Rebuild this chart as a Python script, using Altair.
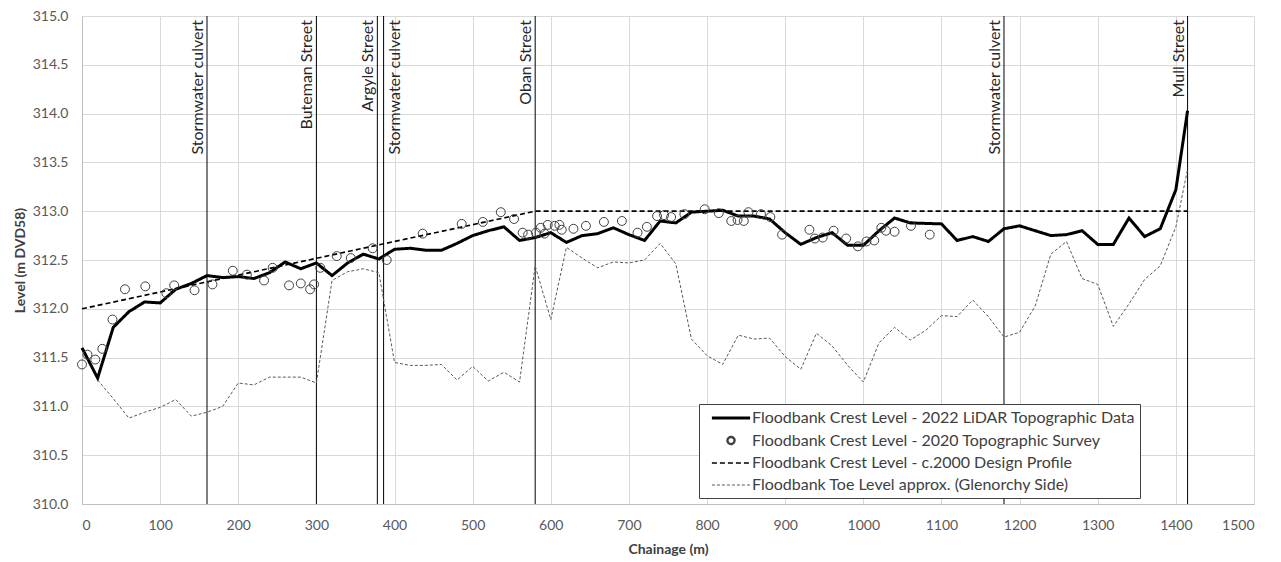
import altair as alt
import pandas as pd

FONT = "Lato"

# ---------------- data ----------------
lidar_ch = [0, 20, 40, 60, 80, 100, 120, 140, 160, 180, 200, 220, 240, 260, 280, 300,
            320, 340, 360, 380, 400, 420, 440, 460, 480, 500, 520, 540, 560, 580, 600,
            620, 640, 660, 680, 700, 720, 740, 760, 780, 800, 820, 840, 860, 880, 900,
            920, 940, 960, 980, 1000, 1020, 1040, 1060, 1080, 1100, 1120, 1140, 1160,
            1180, 1200, 1220, 1240, 1260, 1280, 1300, 1320, 1340, 1360, 1380, 1400, 1415]
lidar_lv = [311.60, 311.29, 311.81, 311.97, 312.07, 312.06, 312.20, 312.26, 312.34, 312.32,
            312.33, 312.31, 312.37, 312.48, 312.41, 312.47, 312.34, 312.47, 312.56, 312.51,
            312.61, 312.62, 312.60, 312.60, 312.67, 312.75, 312.80, 312.84, 312.70, 312.73,
            312.78, 312.68, 312.75, 312.77, 312.83, 312.76, 312.70, 312.90, 312.88, 312.99,
            313.00, 313.01, 312.95, 312.95, 312.92, 312.78, 312.66, 312.73, 312.78, 312.65,
            312.65, 312.80, 312.93, 312.88, 312.875, 312.87, 312.70, 312.74, 312.69, 312.82,
            312.85, 312.80, 312.75, 312.76, 312.80, 312.66, 312.66, 312.93, 312.74, 312.82,
            313.22, 314.03]

design_ch = [0, 580, 1415]
design_lv = [312.00, 313.00, 313.00]

toe_ch = [20, 40, 60, 80, 100, 120, 140, 160, 180, 200, 220, 240, 260, 280, 300, 320, 340,
          360, 380, 400, 420, 440, 460, 480, 500, 520, 540, 560, 580, 600, 620, 640, 660,
          680, 700, 720, 740, 760, 780, 800, 820, 840, 860, 880, 900, 920, 940, 960, 980,
          1000, 1020, 1040, 1060, 1080, 1100, 1120, 1140, 1160, 1180, 1200, 1220, 1240,
          1260, 1280, 1300, 1320, 1340, 1360, 1380, 1400, 1415]
toe_lv = [311.27, 311.08, 310.88, 310.94, 310.99, 311.07, 310.90, 310.94, 311.00, 311.24,
          311.22, 311.30, 311.30, 311.30, 311.24, 312.29, 312.38, 312.41, 312.37, 311.45,
          311.42, 311.42, 311.43, 311.27, 311.41, 311.26, 311.35, 311.25, 312.44, 311.89,
          312.63, 312.52, 312.42, 312.48, 312.47, 312.50, 312.67, 312.46, 311.69, 311.52,
          311.43, 311.73, 311.69, 311.70, 311.51, 311.38, 311.75, 311.62, 311.42, 311.25,
          311.65, 311.81, 311.68, 311.78, 311.93, 311.92, 312.09, 311.92, 311.71, 311.76,
          312.03, 312.56, 312.69, 312.31, 312.25, 311.82, 312.05, 312.30, 312.44, 312.84,
          313.43]

survey_ch = [0, 7, 17, 26, 39, 55, 81, 108, 118, 144, 167, 193, 211, 233, 244, 265, 280,
             292, 297, 305, 326, 344, 372, 390, 436, 486, 513, 536, 553, 564, 571, 581,
             587, 592, 596, 605, 611, 614, 629, 645, 668, 691, 711, 723, 736, 745, 754,
             771, 797, 815, 831, 839, 847, 853, 869, 881, 896, 931, 938, 948, 962, 978,
             993, 1004, 1014, 1023, 1029, 1040, 1061, 1085]
survey_lv = [311.43, 311.53, 311.48, 311.59, 311.89, 312.20, 312.23, 312.16, 312.24, 312.19,
             312.25, 312.39, 312.35, 312.29, 312.42, 312.24, 312.26, 312.20, 312.25, 312.42,
             312.54, 312.52, 312.62, 312.50, 312.77, 312.87, 312.89, 312.99, 312.92, 312.78,
             312.76, 312.78, 312.83, 312.77, 312.86, 312.85, 312.86, 312.81, 312.82, 312.85,
             312.89, 312.90, 312.78, 312.84, 312.95, 312.96, 312.94, 312.97, 313.02, 312.98,
             312.90, 312.91, 312.90, 312.99, 312.97, 312.94, 312.76, 312.81, 312.72, 312.73,
             312.80, 312.72, 312.64, 312.69, 312.70, 312.83, 312.80, 312.79, 312.85, 312.76]

marker_ch = [160, 300, 378, 386, 580, 1180, 1415]
marker_names = ["Stormwater culvert", "Buteman Street", "Argyle Street", "Stormwater culvert",
                "Oban Street", "Stormwater culvert", "Mull Street"]
marker_side = ["left", "left", "left", "right", "left", "left", "left"]

series_names = [
    "Floodbank Crest Level - 2022 LiDAR Topographic Data",
    "Floodbank Crest Level - 2020 Topographic Survey",
    "Floodbank Crest Level - c.2000 Design Profile",
    "Floodbank Toe Level approx. (Glenorchy Side)",
]

# ---------------- tables ----------------
lines_df = pd.concat([
    pd.DataFrame({"ch": lidar_ch, "lv": lidar_lv, "series": series_names[0], "ord": 3}),
    pd.DataFrame({"ch": design_ch, "lv": design_lv, "series": series_names[2], "ord": 2}),
    pd.DataFrame({"ch": toe_ch, "lv": toe_lv, "series": series_names[3], "ord": 1}),
], ignore_index=True)
survey_df = pd.DataFrame({"ch": survey_ch, "lv": survey_lv, "series": series_names[1]})
marker_df = pd.DataFrame({"ch": marker_ch, "name": marker_names, "side": marker_side})

W, H = 1172, 488

x_scale = alt.Scale(domain=[0, 1500], nice=False, zero=False)
y_scale = alt.Scale(domain=[310, 315], nice=False, zero=False)

x_axis = alt.Axis(title="Chainage (m)", values=list(range(0, 1501, 100)), format="d",
                  grid=True, ticks=False, labelPadding=14, titlePadding=10, domain=True,
                  domainColor="#bfbfbf", gridColor="#d9d9d9", labelFont=FONT,
                  labelFontSize=14, labelColor="#595959", titleFont=FONT,
                  titleFontSize=14, titleFontWeight="bold", titleColor="#404040")
y_axis = alt.Axis(title="Level (m DVD58)", values=[310 + 0.5 * i for i in range(11)],
                  format=".1f", grid=True, ticks=False, labelPadding=14, titlePadding=5,
                  domain=True, domainColor="#bfbfbf", gridColor="#d9d9d9", labelFont=FONT,
                  labelFontSize=14, labelColor="#595959", titleFont=FONT,
                  titleFontSize=14, titleFontWeight="bold", titleColor="#404040")

circle_path = "M-0.5,0A0.5,0.5 0 1,1 0.5,0A0.5,0.5 0 1,1 -0.5,0Z"
stroke_path = "M-2.7,0L2.7,0"

dom = series_names
color_sc = alt.Scale(domain=dom, range=["#000000", "#404040", "#000000", "#595959"])
dash_sc = alt.Scale(domain=dom, range=[[1, 0], [1, 0], [5, 3], [3, 2]])
width_sc = alt.Scale(domain=dom, range=[3, 1, 2, 1])
shape_sc = alt.Scale(domain=dom, range=[stroke_path, circle_path, stroke_path, stroke_path])

leg = alt.Legend(title=None, orient="none", legendX=617, legendY=388)

base_x = alt.X("ch:Q", scale=x_scale, axis=x_axis)
base_y = alt.Y("lv:Q", scale=y_scale, axis=y_axis)

rules = alt.Chart(marker_df).mark_rule(color="#000000", strokeWidth=1).encode(
    x=alt.X("ch:Q", scale=x_scale)
)

labels_left = alt.Chart(marker_df).transform_filter(alt.datum.side == "left").mark_text(
    angle=270, align="right", baseline="alphabetic", dy=-4, font=FONT,
    fontSize=16, color="#262626"
).encode(x=alt.X("ch:Q", scale=x_scale), y=alt.value(4), text="name:N")

labels_right = alt.Chart(marker_df).transform_filter(alt.datum.side == "right").mark_text(
    angle=270, align="right", baseline="alphabetic", dy=16, font=FONT,
    fontSize=16, color="#262626"
).encode(x=alt.X("ch:Q", scale=x_scale), y=alt.value(4), text="name:N")

lines = alt.Chart(lines_df).mark_line().encode(
    x=base_x, y=base_y,
    color=alt.Color("series:N", scale=color_sc, legend=leg),
    strokeDash=alt.StrokeDash("series:N", scale=dash_sc, legend=leg),
    strokeWidth=alt.StrokeWidth("series:N", scale=width_sc, legend=leg),
    order=alt.Order("ord:Q"),
)

points = alt.Chart(survey_df).mark_point(filled=False, size=320, opacity=1,
                                         strokeWidth=1).encode(
    x=base_x, y=base_y,
    color=alt.Color("series:N", scale=color_sc, legend=leg),
    shape=alt.Shape("series:N", scale=shape_sc, legend=leg),
)

chart = alt.layer(rules, labels_left, labels_right, lines, points).properties(
    width=W, height=H, padding={"left": 5, "top": 1, "right": 5, "bottom": 5}
).configure(font=FONT).configure_view(stroke=None).configure_legend(
    orient="none", legendX=617, legendY=388, padding=5, strokeColor="#404040",
    fillColor="#ffffff", labelFont=FONT, labelFontSize=16, labelColor="#404040",
    symbolSize=200, rowPadding=6, labelOffset=12, labelLimit=600, symbolOffset=18,
)

chart.save("out.html", embed_options={"renderer": "svg", "actions": False})
